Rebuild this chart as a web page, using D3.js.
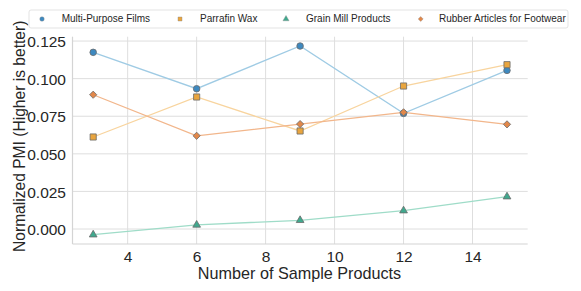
<!DOCTYPE html>
<html><head><meta charset="utf-8">
<script src="https://cdn.jsdelivr.net/npm/d3@7"></script>
<style>body{margin:0;background:#fff}svg{display:block;font-family:"Liberation Sans",Arial,sans-serif}</style>
</head><body><svg id="c" width="581" height="291"></svg>
<script>
const xs = [3, 6, 9, 12, 15];
const seriesNames = ["Multi-Purpose Films", "Parrafin Wax", "Grain Mill Products", "Rubber Articles for Footwear"];
const multiPurposeFilms = [0.1175, 0.0933, 0.1217, 0.0769, 0.1055];
const parrafinWax = [0.0612, 0.0878, 0.0652, 0.0951, 0.1093];
const grainMillProducts = [-0.0038, 0.0027, 0.0058, 0.0122, 0.0215];
const rubberArticles = [0.0893, 0.0620, 0.0698, 0.0776, 0.0696];
const xTicks = [4, 6, 8, 10, 12, 14];
const yTicks = [0.000, 0.025, 0.050, 0.075, 0.100, 0.125];
const xDomain = [2.4, 15.6];
const yDomain = [-0.00997, 0.1279];

const seriesValues = [multiPurposeFilms, parrafinWax, grainMillProducts, rubberArticles];
const markerFill = ["#3d89c0", "#e9a53e", "#3fa98e", "#e2884a"];
const lineColor = ["#9fcbe4", "#f8d49e", "#9fdcc8", "#f2b68b"];
const shapes = [d3.symbolCircle, d3.symbolSquare, d3.symbolTriangle, "diamond"];
const symSizes = [34, 38, 26, 34];

const svg = d3.select("#c");
const L = 72.5, R = 527.7, T = 36.7, B = 244;
const x = d3.scaleLinear().domain(xDomain).range([L, R]);
const y = d3.scaleLinear().domain(yDomain).range([B, T]);

// grid
const g = svg.append("g");
g.selectAll(".vg").data(xTicks).join("line")
  .attr("x1", d => x(d)).attr("x2", d => x(d)).attr("y1", T).attr("y2", B)
  .attr("stroke", "#dedede").attr("stroke-width", 1);
g.selectAll(".hg").data(yTicks).join("line")
  .attr("x1", L).attr("x2", R).attr("y1", d => y(d)).attr("y2", d => y(d))
  .attr("stroke", "#dedede").attr("stroke-width", 1);
// spines
g.append("line").attr("x1", L).attr("x2", L).attr("y1", T).attr("y2", B).attr("stroke", "#d4d4d4").attr("stroke-width", 1.2);
g.append("line").attr("x1", L).attr("x2", R).attr("y1", B).attr("y2", B).attr("stroke", "#d4d4d4").attr("stroke-width", 1.2);

// axes via d3
const xAxis = d3.axisBottom(x).tickValues(xTicks).tickSize(0).tickPadding(0).tickFormat(d3.format("d"));
const xa = svg.append("g").attr("transform", `translate(0,${B})`).call(xAxis);
xa.select(".domain").remove();
xa.selectAll("text").attr("font-size", 15.5).attr("fill", "#262626").attr("dy", null).attr("y", 17.7)
  .attr("font-family", "Liberation Sans, Arial, sans-serif");
const yAxis = d3.axisLeft(y).tickValues(yTicks).tickSize(0).tickPadding(0).tickFormat(d3.format(".3f"));
const ya = svg.append("g").attr("transform", `translate(${L},0)`).call(yAxis);
ya.select(".domain").remove();
ya.selectAll("text").attr("font-size", 15.5).attr("fill", "#262626").attr("x", -6.5).attr("dy", "0.36em")
  .attr("font-family", "Liberation Sans, Arial, sans-serif");

// labels
svg.append("text").attr("x", 299.5).attr("y", 279.3).attr("text-anchor", "middle")
  .attr("font-size", 16.2).attr("fill", "#262626").text("Number of Sample Products");
svg.append("text").attr("transform", "translate(24.5,252) rotate(-90)").attr("text-anchor", "start")
  .attr("font-size", 15.6).attr("fill", "#262626").text("Normalized PMI (Higher is better)");

function sym(i, size) {
  if (shapes[i] === "diamond") {
    const r = Math.sqrt(size) * 0.62;
    return `M0,${-r}L${r},0L0,${r}L${-r},0Z`;
  }
  return d3.symbol().type(shapes[i]).size(size)();
}

const line = d3.line().x((d, i) => x(xs[i])).y(d => y(d));
const order = [0, 1, 2, 3];
order.forEach(i => {
  svg.append("path").datum(seriesValues[i]).attr("d", line)
    .attr("fill", "none").attr("stroke", lineColor[i]).attr("stroke-width", 1.3);
});
order.forEach(i => {
  svg.append("g").selectAll("path").data(seriesValues[i]).join("path")
    .attr("transform", (d, j) => `translate(${x(xs[j])},${y(d)})`)
    .attr("d", sym(i, symSizes[i]))
    .attr("fill", markerFill[i]).attr("stroke", "#6b6b6b").attr("stroke-width", 0.8);
});

// legend
const lg = svg.append("g");
lg.append("rect").attr("x", 29).attr("y", 10).attr("width", 539).attr("height", 18).attr("rx", 2)
  .attr("fill", "#fff").attr("stroke", "#dcdcdc").attr("stroke-width", 0.8);
const legMarkX = [42, 180, 286, 420.7];
const legTextX = [61.7, 200, 306, 439];
seriesNames.forEach((n, i) => {
  lg.append("path").attr("transform", `translate(${legMarkX[i]},19)`).attr("d", sym(i, 16))
    .attr("fill", markerFill[i]).attr("stroke", "#8a8a8a").attr("stroke-width", 0.4);
  lg.append("text").attr("x", legTextX[i]).attr("y", 22.4).attr("font-size", 10).attr("fill", "#262626").text(n);
});
</script></body></html>
